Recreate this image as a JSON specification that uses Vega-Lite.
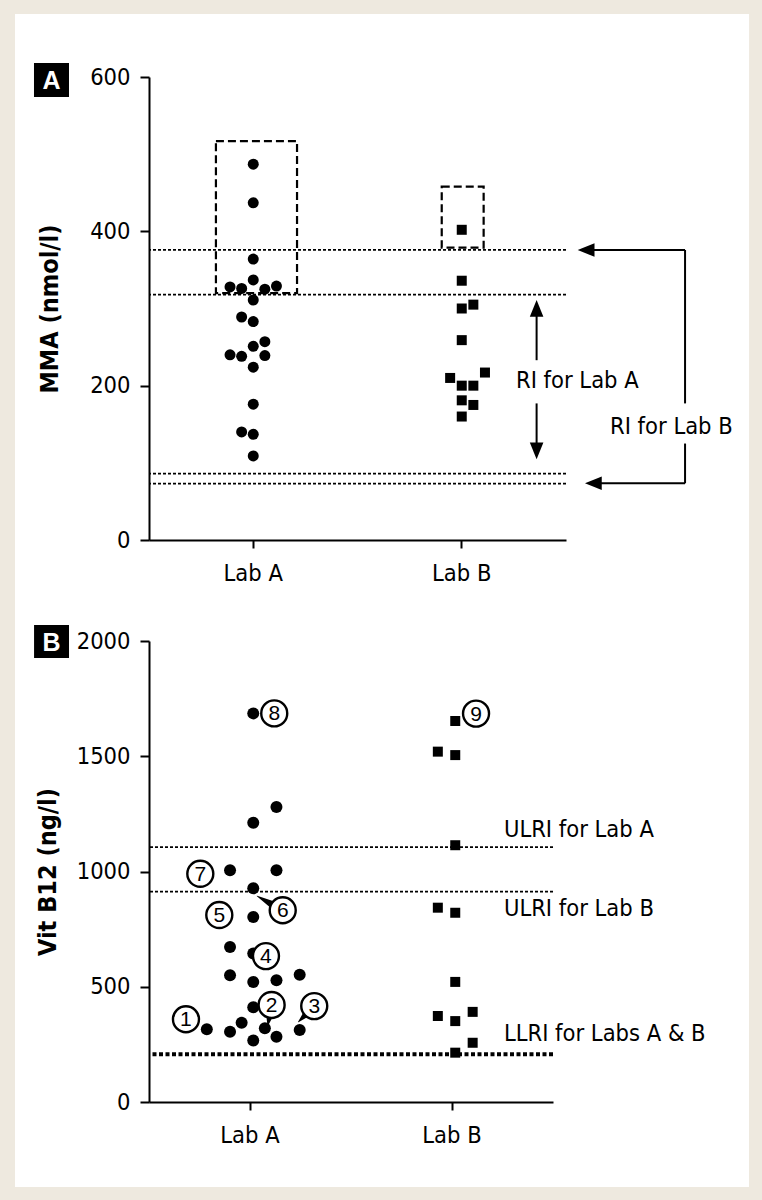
{
  "$schema": "https://vega.github.io/schema/vega-lite/v6.json",
  "background": "#EEE9DF",
  "padding": 14,
  "spacing": -3,
  "bounds": "full",
  "config": {
    "view": {"stroke": null},
    "font": "DejaVu Sans Condensed, Roboto, sans-serif",
    "axisX": {"domainColor": "black", "domainWidth": 2, "tickColor": "black", "tickWidth": 2, "tickSize": 8, "labelFont": "DejaVu Sans Condensed, Roboto, sans-serif", "labelFontSize": 23.5, "labelColor": "black", "labelPadding": 13, "grid": false, "labelAngle": 0},
    "axisY": {"domainColor": "black", "domainWidth": 2, "tickColor": "black", "tickWidth": 2, "tickSize": 9, "labelFont": "DejaVu Sans Condensed, Roboto, sans-serif", "labelFontSize": 23.5, "labelColor": "black", "labelPadding": 10, "grid": false, "titleFont": "DejaVu Sans Condensed, Roboto, sans-serif", "titleFontSize": 25, "titleFontWeight": "bold", "titleColor": "black", "format": "d"}
  },
  "datasets": {
    "mma": [
      {"lab": "Lab A", "mma": 487, "slot": 0}, {"lab": "Lab A", "mma": 437, "slot": 0}, {"lab": "Lab A", "mma": 364, "slot": 0},
      {"lab": "Lab A", "mma": 337, "slot": 0}, {"lab": "Lab A", "mma": 328, "slot": -2}, {"lab": "Lab A", "mma": 326, "slot": -1},
      {"lab": "Lab A", "mma": 325, "slot": 1}, {"lab": "Lab A", "mma": 329, "slot": 2}, {"lab": "Lab A", "mma": 311, "slot": 0},
      {"lab": "Lab A", "mma": 289, "slot": -1}, {"lab": "Lab A", "mma": 283, "slot": 0}, {"lab": "Lab A", "mma": 257, "slot": 1},
      {"lab": "Lab A", "mma": 251, "slot": 0}, {"lab": "Lab A", "mma": 240, "slot": -2}, {"lab": "Lab A", "mma": 238, "slot": -1},
      {"lab": "Lab A", "mma": 239, "slot": 1}, {"lab": "Lab A", "mma": 224, "slot": 0}, {"lab": "Lab A", "mma": 176, "slot": 0},
      {"lab": "Lab A", "mma": 140, "slot": -1}, {"lab": "Lab A", "mma": 137, "slot": 0}, {"lab": "Lab A", "mma": 109, "slot": 0},
      {"lab": "Lab B", "mma": 402, "slot": 0}, {"lab": "Lab B", "mma": 336, "slot": 0}, {"lab": "Lab B", "mma": 300, "slot": 0},
      {"lab": "Lab B", "mma": 305, "slot": 1}, {"lab": "Lab B", "mma": 259, "slot": 0}, {"lab": "Lab B", "mma": 210, "slot": -1},
      {"lab": "Lab B", "mma": 200, "slot": 0}, {"lab": "Lab B", "mma": 200, "slot": 1}, {"lab": "Lab B", "mma": 217, "slot": 2},
      {"lab": "Lab B", "mma": 181, "slot": 0}, {"lab": "Lab B", "mma": 175, "slot": 1}, {"lab": "Lab B", "mma": 160, "slot": 0}
    ],
    "b12": [
      {"lab": "Lab A", "b12": 1686, "slot": 0}, {"lab": "Lab A", "b12": 1280, "slot": 2}, {"lab": "Lab A", "b12": 1212, "slot": 0},
      {"lab": "Lab A", "b12": 1005, "slot": -2}, {"lab": "Lab A", "b12": 1005, "slot": 2}, {"lab": "Lab A", "b12": 927, "slot": 0},
      {"lab": "Lab A", "b12": 803, "slot": 0}, {"lab": "Lab A", "b12": 672, "slot": -2}, {"lab": "Lab A", "b12": 644, "slot": 0},
      {"lab": "Lab A", "b12": 550, "slot": -2}, {"lab": "Lab A", "b12": 521, "slot": 0}, {"lab": "Lab A", "b12": 528, "slot": 2},
      {"lab": "Lab A", "b12": 552, "slot": 4}, {"lab": "Lab A", "b12": 411, "slot": 0}, {"lab": "Lab A", "b12": 316, "slot": -4},
      {"lab": "Lab A", "b12": 305, "slot": -2}, {"lab": "Lab A", "b12": 344, "slot": -1}, {"lab": "Lab A", "b12": 320, "slot": 1},
      {"lab": "Lab A", "b12": 283, "slot": 2}, {"lab": "Lab A", "b12": 267, "slot": 0}, {"lab": "Lab A", "b12": 312, "slot": 4},
      {"lab": "Lab B", "b12": 1653, "slot": 0}, {"lab": "Lab B", "b12": 1520, "slot": -1.5}, {"lab": "Lab B", "b12": 1505, "slot": 0},
      {"lab": "Lab B", "b12": 1114, "slot": 0}, {"lab": "Lab B", "b12": 843, "slot": -1.5}, {"lab": "Lab B", "b12": 821, "slot": 0},
      {"lab": "Lab B", "b12": 521, "slot": 0}, {"lab": "Lab B", "b12": 373, "slot": -1.5}, {"lab": "Lab B", "b12": 351, "slot": 0},
      {"lab": "Lab B", "b12": 391, "slot": 1.5}, {"lab": "Lab B", "b12": 257, "slot": 1.5}, {"lab": "Lab B", "b12": 214, "slot": 0}
    ],
    "mmaLines": [
      {"limit": "Lab B upper", "mma": 376}, {"limit": "Lab A upper", "mma": 318},
      {"limit": "Lab A lower", "mma": 86}, {"limit": "Lab B lower", "mma": 73}
    ],
    "mmaBoxes": [
      {"lab": "Lab A", "x": 0.821, "x2": 1.21, "mma": 320, "mma2": 517},
      {"lab": "Lab B", "x": 1.904, "x2": 2.105, "mma": 379, "mma2": 458}
    ],
    "mmaSegments": [
      {"x": 2.359, "x2": 2.359, "mma": 233, "mma2": 296},
      {"x": 2.359, "x2": 2.359, "mma": 177, "mma2": 118},
      {"x": 2.6, "x2": 3.071, "mma": 375.8, "mma2": 375.8},
      {"x": 3.071, "x2": 3.071, "mma": 375.8, "mma2": 177},
      {"x": 3.071, "x2": 3.071, "mma": 125, "mma2": 73.5},
      {"x": 2.63, "x2": 3.071, "mma": 73.5, "mma2": 73.5}
    ],
    "mmaHeads": [
      {"dir": "up", "x": 2.359, "mma": 311},
      {"dir": "down", "x": 2.359, "mma": 104.6},
      {"dir": "left", "x": 2.556, "mma": 375.8},
      {"dir": "left", "x": 2.591, "mma": 73.5}
    ],
    "mmaNotes": [
      {"label": "RI for Lab A", "x": 2.26, "mma": 206.5},
      {"label": "RI for Lab B", "x": 2.711, "mma": 146.4}
    ],
    "b12Upper": [{"limit": "ULRI Lab A", "b12": 1106}, {"limit": "ULRI Lab B", "b12": 913}],
    "b12Lower": [{"limit": "LLRI Labs A & B", "b12": 207}],
    "b12Notes": [
      {"label": "ULRI for Lab A", "x": 2.257, "b12": 1180},
      {"label": "ULRI for Lab B", "x": 2.257, "b12": 837},
      {"label": "LLRI for Labs A & B", "x": 2.257, "b12": 295}
    ],
    "b12Pointers": [
      {"id": "6", "end": "base", "x": 1.1186, "b12": 853}, {"id": "6", "end": "tip", "x": 1.0347, "b12": 894},
      {"id": "2", "end": "base", "x": 1.099, "b12": 383}, {"id": "2", "end": "tip", "x": 1.0876, "b12": 330},
      {"id": "3", "end": "base", "x": 1.2866, "b12": 389}, {"id": "3", "end": "tip", "x": 1.239, "b12": 347}
    ],
    "b12Circles": [
      {"num": "8", "x": 1.12, "b12": 1686}, {"num": "7", "x": 0.754, "b12": 990},
      {"num": "6", "x": 1.162, "b12": 832}, {"num": "5", "x": 0.848, "b12": 811},
      {"num": "4", "x": 1.079, "b12": 633}, {"num": "2", "x": 1.107, "b12": 421},
      {"num": "3", "x": 1.318, "b12": 416}, {"num": "1", "x": 0.683, "b12": 359},
      {"num": "9", "x": 2.119, "b12": 1685}
    ]
  },
  "vconcat": [
    {
      "width": 417,
      "height": 463,
      "resolve": {"scale": {"x": "independent", "shape": "independent", "size": "independent"}, "axis": {"x": "independent"}},
      "layer": [
        {
          "layer": [
            {
              "data": {"values": [{}]},
              "mark": {"type": "rect", "color": "white", "clip": false},
              "encoding": {
                "x": {"datum": -0.1427, "type": "quantitative", "scale": {"domain": [0.5, 2.5]}, "axis": null},
                "x2": {"datum": 3.378},
                "y": {"datum": 681.6, "type": "quantitative", "scale": {"domain": [0, 600]}, "title": "MMA (nmol/l)"},
                "y2": {"datum": -64.8}
              }
            },
            {
              "data": {"values": [{}]},
              "mark": {"type": "rect", "color": "black", "clip": false},
              "encoding": {
                "x": {"datum": -0.0516, "type": "quantitative", "scale": {"domain": [0.5, 2.5]}, "axis": null},
                "x2": {"datum": 0.1163},
                "y": {"datum": 618, "type": "quantitative", "scale": {"domain": [0, 600]}, "title": "MMA (nmol/l)"},
                "y2": {"datum": 574}
              }
            },
            {
              "data": {"values": [{}]},
              "mark": {"type": "text", "text": "A", "color": "white", "font": "Liberation Sans", "fontWeight": "bold", "fontSize": 25, "align": "center", "baseline": "middle", "dy": 1},
              "encoding": {
                "x": {"datum": 0.0324, "type": "quantitative", "scale": {"domain": [0.5, 2.5]}, "axis": null},
                "y": {"datum": 596, "type": "quantitative", "scale": {"domain": [0, 600]}, "title": "MMA (nmol/l)"}
              }
            },
            {
              "data": {"name": "mmaLines"},
              "mark": {"type": "rule", "color": "black", "strokeWidth": 1.8, "strokeDash": [3, 2]},
              "encoding": {
                "y": {"field": "mma", "type": "quantitative", "scale": {"domain": [0, 600]}, "title": "MMA (nmol/l)"}
              }
            },
            {
              "data": {"name": "mmaBoxes"},
              "mark": {"type": "rect", "filled": false, "fill": null, "stroke": "black", "strokeWidth": 2.2, "strokeDash": [8, 4]},
              "encoding": {
                "x": {"field": "x", "type": "quantitative", "scale": {"domain": [0.5, 2.5]}, "axis": null},
                "x2": {"field": "x2"},
                "y": {"field": "mma", "type": "quantitative", "scale": {"domain": [0, 600]}, "title": "MMA (nmol/l)"},
                "y2": {"field": "mma2"}
              }
            },
            {
              "data": {"name": "mmaSegments"},
              "mark": {"type": "rule", "color": "black", "strokeWidth": 2, "clip": false},
              "encoding": {
                "x": {"field": "x", "type": "quantitative", "scale": {"domain": [0.5, 2.5]}, "axis": null},
                "x2": {"field": "x2"},
                "y": {"field": "mma", "type": "quantitative", "scale": {"domain": [0, 600]}, "title": "MMA (nmol/l)"},
                "y2": {"field": "mma2"}
              }
            },
            {
              "data": {"name": "mmaHeads"},
              "mark": {"type": "point", "filled": true, "color": "black", "opacity": 1, "size": 256, "strokeWidth": 0, "clip": false},
              "encoding": {
                "x": {"field": "x", "type": "quantitative", "scale": {"domain": [0.5, 2.5]}, "axis": null},
                "y": {"field": "mma", "type": "quantitative", "scale": {"domain": [0, 600]}, "title": "MMA (nmol/l)"},
                "shape": {"field": "dir", "type": "nominal", "legend": null, "scale": {"domain": ["up", "down", "left"], "range": ["M0,0L0.85,2.1L-0.85,2.1Z", "M0,0L0.85,-2.1L-0.85,-2.1Z", "M0,0L2.1,-0.85L2.1,0.85Z"]}}
              }
            },
            {
              "data": {"name": "mmaNotes"},
              "mark": {"type": "text", "color": "black", "fontSize": 23.5, "align": "left", "baseline": "middle", "clip": false},
              "encoding": {
                "x": {"field": "x", "type": "quantitative", "scale": {"domain": [0.5, 2.5]}, "axis": null},
                "y": {"field": "mma", "type": "quantitative", "scale": {"domain": [0, 600]}, "title": "MMA (nmol/l)"},
                "text": {"field": "label"}
              }
            }
          ]
        },
        {
          "data": {"name": "mma"},
          "mark": {"type": "point", "filled": true, "color": "black", "opacity": 1, "strokeWidth": 0},
          "encoding": {
            "x": {"field": "lab", "type": "nominal", "scale": {"type": "band", "domain": ["Lab A", "Lab B"], "paddingInner": 0, "paddingOuter": 0}, "axis": {"title": null, "bandPosition": 0.5, "zindex": 2}},
            "xOffset": {"field": "slot", "type": "quantitative", "scale": {"domain": [-6.726, 6.726]}},
            "y": {"field": "mma", "type": "quantitative", "scale": {"domain": [0, 600]}, "title": "MMA (nmol/l)", "axis": {"values": [0, 200, 400, 600], "titlePadding": 27, "zindex": 2}},
            "shape": {"field": "lab", "type": "nominal", "legend": null, "scale": {"domain": ["Lab A", "Lab B"], "range": ["circle", "square"]}},
            "size": {"field": "lab", "type": "ordinal", "legend": null, "scale": {"domain": ["Lab A", "Lab B"], "range": [121, 100]}}
          }
        }
      ]
    },
    {
      "width": 404,
      "height": 461,
      "resolve": {"scale": {"x": "independent", "shape": "independent", "size": "independent"}, "axis": {"x": "independent"}},
      "layer": [
        {
          "layer": [
            {
              "data": {"values": [{}]},
              "mark": {"type": "rect", "color": "white", "clip": false},
              "encoding": {
                "x": {"datum": -0.1634, "type": "quantitative", "scale": {"domain": [0.5, 2.5]}, "axis": null},
                "x2": {"datum": 3.4703},
                "y": {"datum": 2229.9, "type": "quantitative", "scale": {"domain": [0, 2000]}, "title": "Vit B12 (ng/l)"},
                "y2": {"datum": -368.8}
              }
            },
            {
              "data": {"values": [{}]},
              "mark": {"type": "rect", "color": "black", "clip": false},
              "encoding": {
                "x": {"datum": -0.069, "type": "quantitative", "scale": {"domain": [0.5, 2.5]}, "axis": null},
                "x2": {"datum": 0.104},
                "y": {"datum": 2069, "type": "quantitative", "scale": {"domain": [0, 2000]}, "title": "Vit B12 (ng/l)"},
                "y2": {"datum": 1926}
              }
            },
            {
              "data": {"values": [{}]},
              "mark": {"type": "text", "text": "B", "color": "white", "font": "Liberation Sans", "fontWeight": "bold", "fontSize": 25, "align": "center", "baseline": "middle", "dy": 1},
              "encoding": {
                "x": {"datum": 0.0175, "type": "quantitative", "scale": {"domain": [0.5, 2.5]}, "axis": null},
                "y": {"datum": 1997, "type": "quantitative", "scale": {"domain": [0, 2000]}, "title": "Vit B12 (ng/l)"}
              }
            },
            {
              "data": {"name": "b12Upper"},
              "mark": {"type": "rule", "color": "black", "strokeWidth": 1.8, "strokeDash": [3, 2]},
              "encoding": {
                "y": {"field": "b12", "type": "quantitative", "scale": {"domain": [0, 2000]}, "title": "Vit B12 (ng/l)"}
              }
            },
            {
              "data": {"name": "b12Lower"},
              "mark": {"type": "rule", "color": "black", "strokeWidth": 4, "strokeDash": [4, 2.5]},
              "encoding": {
                "y": {"field": "b12", "type": "quantitative", "scale": {"domain": [0, 2000]}, "title": "Vit B12 (ng/l)"}
              }
            },
            {
              "data": {"name": "b12Notes"},
              "mark": {"type": "text", "color": "black", "fontSize": 23.5, "align": "left", "baseline": "middle", "clip": false},
              "encoding": {
                "x": {"field": "x", "type": "quantitative", "scale": {"domain": [0.5, 2.5]}, "axis": null},
                "y": {"field": "b12", "type": "quantitative", "scale": {"domain": [0, 2000]}, "title": "Vit B12 (ng/l)"},
                "text": {"field": "label"}
              }
            }
          ]
        },
        {
          "data": {"name": "b12"},
          "mark": {"type": "point", "filled": true, "color": "black", "opacity": 1, "strokeWidth": 0},
          "encoding": {
            "x": {"field": "lab", "type": "nominal", "scale": {"type": "band", "domain": ["Lab A", "Lab B"], "paddingInner": 0, "paddingOuter": 0}, "axis": {"title": null, "bandPosition": 0.5, "zindex": 2}},
            "xOffset": {"field": "slot", "type": "quantitative", "scale": {"domain": [-8.98, 8.98]}},
            "y": {"field": "b12", "type": "quantitative", "scale": {"domain": [0, 2000]}, "title": "Vit B12 (ng/l)", "axis": {"values": [0, 500, 1000, 1500, 2000], "titlePadding": 16, "zindex": 2}},
            "shape": {"field": "lab", "type": "nominal", "legend": null, "scale": {"domain": ["Lab A", "Lab B"], "range": ["circle", "square"]}},
            "size": {"field": "lab", "type": "ordinal", "legend": null, "scale": {"domain": ["Lab A", "Lab B"], "range": [144, 100]}}
          }
        },
        {
          "layer": [
            {
              "data": {"name": "b12Pointers"},
              "mark": {"type": "trail", "color": "black"},
              "encoding": {
                "x": {"field": "x", "type": "quantitative", "scale": {"domain": [0.5, 2.5]}, "axis": null},
                "y": {"field": "b12", "type": "quantitative", "scale": {"domain": [0, 2000]}, "title": "Vit B12 (ng/l)"},
                "size": {"field": "end", "type": "ordinal", "legend": null, "scale": {"domain": ["base", "tip"], "range": [8, 0.5]}},
                "detail": {"field": "id"}
              }
            },
            {
              "data": {"name": "b12Circles"},
              "mark": {"type": "point", "shape": "circle", "size": 676, "filled": true, "fill": "white", "stroke": "black", "strokeWidth": 2.4, "opacity": 1},
              "encoding": {
                "x": {"field": "x", "type": "quantitative", "scale": {"domain": [0.5, 2.5]}, "axis": null},
                "y": {"field": "b12", "type": "quantitative", "scale": {"domain": [0, 2000]}, "title": "Vit B12 (ng/l)"}
              }
            },
            {
              "data": {"name": "b12Circles"},
              "mark": {"type": "text", "color": "black", "font": "Liberation Sans", "fontSize": 21, "align": "center", "baseline": "middle", "dy": 1},
              "encoding": {
                "x": {"field": "x", "type": "quantitative", "scale": {"domain": [0.5, 2.5]}, "axis": null},
                "y": {"field": "b12", "type": "quantitative", "scale": {"domain": [0, 2000]}, "title": "Vit B12 (ng/l)"},
                "text": {"field": "num"}
              }
            }
          ]
        }
      ]
    }
  ]
}
